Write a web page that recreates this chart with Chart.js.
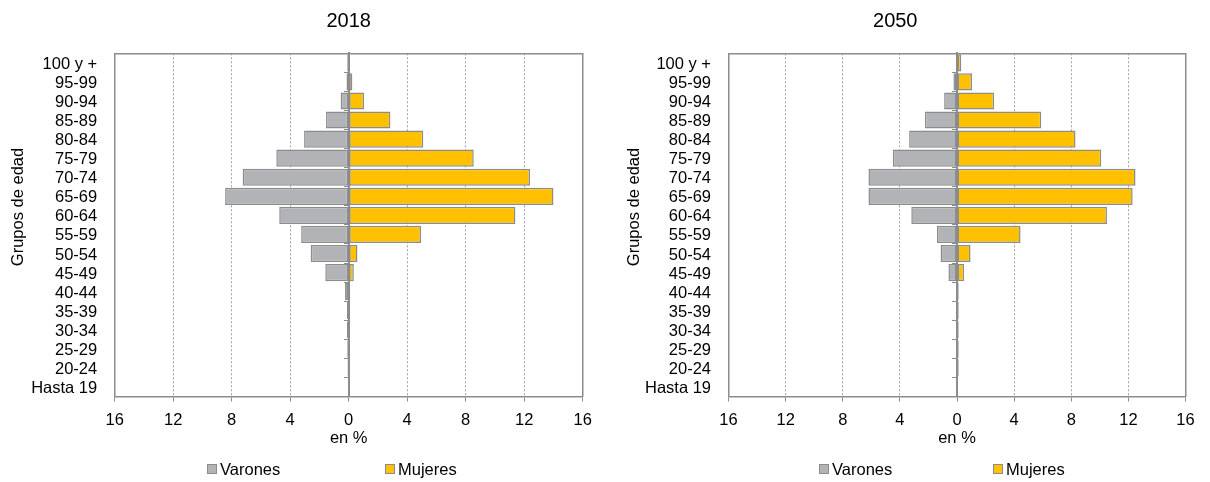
<!DOCTYPE html>
<html lang="es">
<head>
<meta charset="utf-8">
<title>Pirámides de edad 2018 y 2050</title>
<script src="https://cdn.jsdelivr.net/npm/chart.js@4.4.1/dist/chart.umd.min.js"></script>
<style>
  html, body { margin: 0; padding: 0; background: #fff; }
  #wrap { position: relative; width: 1210px; height: 482px; overflow: hidden;
          font-family: "Liberation Sans", Arial, sans-serif; }
  .panel { position: absolute; top: 0; width: 605px; height: 482px; }
  .legend { position: absolute; top: 459px; height: 20px; display: flex; font-size: 16.5px; color: #000; }
  .legend .item { display: flex; align-items: center; }
  .legend .box { width: 8px; height: 8px; border: 1px solid; margin-right: 3px; }
</style>
</head>
<body>
<div id="wrap">
  <div class="panel" style="left:0"><canvas id="c2018" width="605" height="482"></canvas></div>
  <div class="panel" style="left:605px"><canvas id="c2050" width="605" height="482"></canvas></div>
  <div class="legend" id="legend2018"></div>
  <div class="legend" id="legend2050"></div>
</div>
<script>
// Age groups, oldest at the top
const ageGroups = ['100 y +', '95-99', '90-94', '85-89', '80-84', '75-79', '70-74', '65-69',
  '60-64', '55-59', '50-54', '45-49', '40-44', '35-39', '30-34', '25-29', '20-24', 'Hasta 19'];

// Share of each age group, in %
const varones2018 = [0.1, 0.15, 0.55, 1.55, 3.05, 4.95, 7.25, 8.45, 4.75, 3.25, 2.6, 1.6, 0.25, 0.12, 0.12, 0.1, 0.08, 0.0];
const mujeres2018 = [0.05, 0.25, 1.05, 2.85, 5.1, 8.55, 12.4, 14.0, 11.4, 4.95, 0.6, 0.35, 0.1, 0.1, 0.1, 0.05, 0.05, 0.0];
const varones2050 = [0.05, 0.25, 0.9, 2.25, 3.35, 4.5, 6.2, 6.2, 3.2, 1.4, 1.15, 0.6, 0.05, 0.05, 0.05, 0.05, 0.05, 0.0];
const mujeres2050 = [0.3, 1.05, 2.6, 5.9, 8.3, 10.1, 12.5, 12.3, 10.5, 4.45, 0.95, 0.5, 0.12, 0.12, 0.12, 0.12, 0.12, 0.0];

// Tick values of the % axis (labels shown as absolute values)
const xTicks = [-16, -12, -8, -4, 0, 4, 8, 12, 16];

const yAxisTitle = 'Grupos de edad';
const xAxisTitle = 'en %';

Chart.defaults.font.family = '"Liberation Sans", Arial, sans-serif';
Chart.defaults.font.size = 16.5;
Chart.defaults.color = '#000';

const GREY = '#B1B3B6';
const GOLD = '#FFC000';
const EDGE = '#8C8C8C';
const CANVAS_H = 482;

// Rotated caption for the age axis, placed freely beside the tick labels
const sideCaption = {
  id: 'sideCaption',
  afterDraw(chart, args, opts) {
    const ctx = chart.ctx;
    ctx.save();
    ctx.translate(opts.x, opts.y);
    ctx.rotate(-Math.PI / 2);
    ctx.font = '16.5px "Liberation Sans", Arial, sans-serif';
    ctx.fillStyle = '#000';
    ctx.textAlign = 'center';
    ctx.textBaseline = 'middle';
    ctx.fillText(opts.text, 0, 0);
    ctx.restore();
  }
};

function makePyramid(id, year, males, females, frame) {
  return new Chart(document.getElementById(id), {
    type: 'bar',
    data: {
      labels: ageGroups,
      datasets: [
        { label: 'Varones', data: males.map(v => -v), backgroundColor: GREY,
          borderColor: EDGE, borderWidth: 1.5, borderSkipped: false },
        { label: 'Mujeres', data: females, backgroundColor: GOLD,
          borderColor: EDGE, borderWidth: 1.5, borderSkipped: false }
      ]
    },
    options: {
      indexAxis: 'y',
      responsive: false,
      animation: false,
      layout: { padding: { left: 0, right: frame.padRight, top: 0, bottom: 0 } },
      datasets: { bar: { categoryPercentage: 1, barPercentage: 0.9 } },
      plugins: {
        legend: { display: false },
        tooltip: { enabled: false },
        title: {
          display: true, text: year, fullSize: frame.titleFull,
          font: { size: 20, weight: 'normal' }, color: '#000',
          padding: { top: 9.5, bottom: 19.8 }
        },
        sideCaption: { text: yAxisTitle, x: frame.captionX, y: 207 }
      },
      scales: {
        x: {
          type: 'linear', min: -16, max: 16, stacked: true, position: 'bottom',
          afterBuildTicks: s => { s.ticks = xTicks.map(v => ({ value: v })); },
          afterFit: s => { s.height = CANVAS_H - frame.bottom; },
          grid: {
            color: c => (c.tick && Math.abs(c.tick.value) % 16 === 0) ? 'rgba(0,0,0,0)' : '#A0A0A0',
            lineWidth: 1, drawTicks: true, tickLength: 5, tickColor: EDGE, tickWidth: 1
          },
          border: { display: true, color: EDGE, width: 1.5, dash: [2, 2] },
          ticks: { padding: 9.5, callback: v => Math.abs(v), maxRotation: 0 },
          title: { display: true, text: xAxisTitle, padding: { top: 0, bottom: 34 } }
        },
        xTop: {
          type: 'linear', axis: 'x', position: 'top', min: -16, max: 16,
          grid: { drawOnChartArea: false, drawTicks: false },
          border: { display: true, color: EDGE, width: 1.5 },
          ticks: { display: false }
        },
        y: {
          type: 'category', stacked: true, offset: true, position: 'left',
          afterFit: s => { s.width = frame.left; },
          grid: { drawOnChartArea: false, drawTicks: false },
          border: { display: true, color: EDGE, width: 1.5 },
          ticks: { padding: 17.5, autoSkip: false, labelOffset: 1.5 }
        },
        yRight: {
          type: 'category', axis: 'y', position: 'right', offset: true, labels: ageGroups,
          grid: { drawOnChartArea: false, drawTicks: false },
          border: { display: true, color: EDGE, width: 1.5 },
          ticks: { display: false }
        },
        zero: {
          type: 'category', axis: 'y', position: { x: 0 }, offset: true, labels: ageGroups,
          grid: { drawOnChartArea: false, drawTicks: true, tickLength: 4, tickColor: EDGE, offset: true },
          border: { display: true, color: EDGE, width: 2 },
          ticks: { display: false }
        }
      }
    },
    plugins: [sideCaption]
  });
}

// Legend below each pyramid, built from the chart's own legend items
function buildLegend(chart, el, left, itemWidth) {
  const items = Chart.defaults.plugins.legend.labels.generateLabels(chart);
  el.style.left = left + 'px';
  items.forEach(it => {
    const item = document.createElement('div');
    item.className = 'item';
    item.style.width = itemWidth + 'px';
    const box = document.createElement('span');
    box.className = 'box';
    box.style.background = it.fillStyle;
    box.style.borderColor = it.strokeStyle;
    const txt = document.createElement('span');
    txt.textContent = it.text;
    item.appendChild(box);
    item.appendChild(txt);
    el.appendChild(item);
  });
}

const chart2018 = makePyramid('c2018', '2018', varones2018, mujeres2018,
  { left: 114.7, padRight: 22.3, bottom: 396.5, titleFull: false, captionX: 18 });
const chart2050 = makePyramid('c2050', '2050', varones2050, mujeres2050,
  { left: 123.5, padRight: 24.5, bottom: 396.5, titleFull: true, captionX: 29 });

buildLegend(chart2018, document.getElementById('legend2018'), 207, 178);
buildLegend(chart2050, document.getElementById('legend2050'), 819, 174);
</script>
</body>
</html>
